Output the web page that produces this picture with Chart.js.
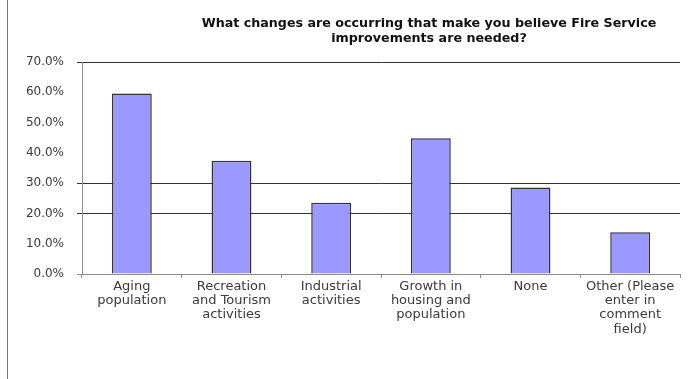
<!DOCTYPE html>
<html>
<head>
<meta charset="utf-8">
<script src="https://cdn.jsdelivr.net/npm/chart.js@4.4.1/dist/chart.umd.min.js"></script>
<style>
  html, body { margin: 0; padding: 0; background: #fff; }
  #wrap { position: relative; width: 695px; height: 379px; }
</style>
</head>
<body>
<div id="wrap"><canvas id="chart-changes"></canvas></div>
<script>
(function () {
    'use strict';

    /* --- Data --- */
    var categories = [
        ['Aging', 'population'],
        ['Recreation', 'and Tourism', 'activities'],
        ['Industrial', 'activities'],
        ['Growth in', 'housing and', 'population'],
        ['None'],
        ['Other (Please', 'enter in', 'comment', 'field)']
    ];
    var percentages = [59.6, 37.4, 23.5, 44.8, 28.6, 13.8];
    var titleLines = [
        'What changes are occurring that make you believe Fire Service',
        'improvements are needed?'
    ];
    var gridValues = [70, 30, 20];

    var font = "'DejaVu Sans', Verdana, sans-serif";
    var barFill = '#9999ff';
    var ink = '#3a3a3a';
    var axisGray = '#8c8c8c';

    /* title + left frame line */
    var decor = {
        id: 'decor',
        afterDraw: function (chart) {
            var ctx = chart.ctx;
            ctx.save();
            ctx.strokeStyle = '#777';
            ctx.lineWidth = 1;
            ctx.beginPath();
            ctx.moveTo(7.5, 0);
            ctx.lineTo(7.5, chart.height);
            ctx.stroke();

            ctx.fillStyle = '#111';
            ctx.font = 'bold 12.7px ' + font;
            ctx.textAlign = 'center';
            ctx.textBaseline = 'middle';
            titleLines.forEach(function (line, i) {
                ctx.fillText(line, 429, 24 + i * 14.5);
            });
            ctx.restore();
        }
    };

    new Chart(document.getElementById('chart-changes'), {
        type: 'bar',
        data: {
            labels: categories,
            datasets: [{
                data: percentages,
                backgroundColor: barFill,
                borderColor: '#333',
                borderWidth: 1.5,
                barPercentage: 0.4,
                categoryPercentage: 1
            }]
        },
        options: {
            responsive: true,
            maintainAspectRatio: false,
            animation: false,
            layout: { padding: { top: 62, right: 15, left: 0, bottom: 0 } },
            plugins: {
                legend: { display: false },
                title: { display: false },
                tooltip: { enabled: false }
            },
            scales: {
                x: {
                    afterFit: function (axis) { axis.height = 105; },
                    grid: {
                        drawOnChartArea: false,
                        drawTicks: true,
                        tickLength: 4,
                        color: axisGray,
                        offset: true
                    },
                    border: { color: axisGray, width: 1 },
                    ticks: {
                        color: ink,
                        font: { family: font, size: 13, lineHeight: 1.08 },
                        padding: 2,
                        maxRotation: 0,
                        autoSkip: false
                    }
                },
                y: {
                    min: 0,
                    max: 70,
                    afterFit: function (axis) { axis.width = 82; },
                    grid: {
                        color: function (c) {
                            if (c.tick.value === 0) return axisGray;
                            return gridValues.indexOf(c.tick.value) >= 0 ? '#333' : 'rgba(0,0,0,0)';
                        },
                        tickLength: 5
                    },
                    border: { color: axisGray, width: 1 },
                    ticks: {
                        stepSize: 10,
                        color: ink,
                        padding: 13,
                        font: { family: font, size: 12 },
                        callback: function (v) { return v.toFixed(1) + '%'; }
                    }
                }
            }
        },
        plugins: [decor]
    });
})();
</script>
</body>
</html>
